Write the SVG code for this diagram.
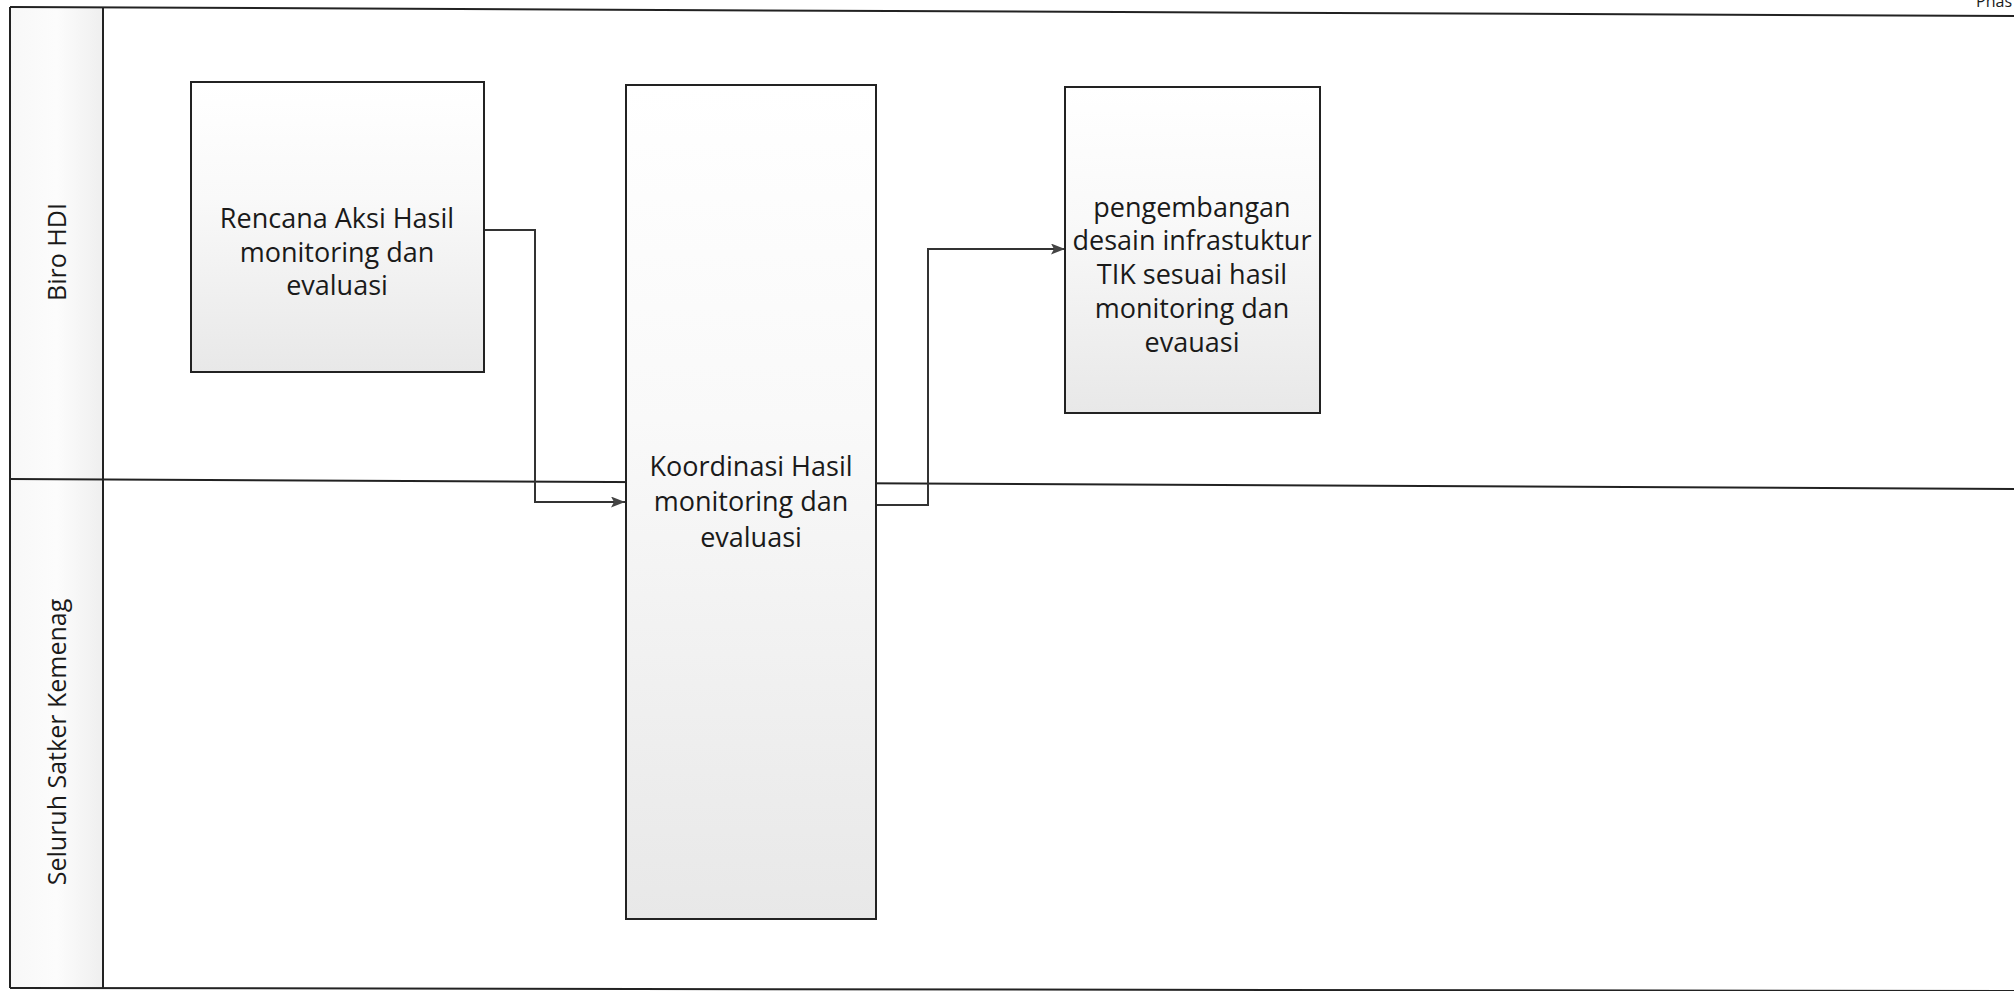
<svg xmlns="http://www.w3.org/2000/svg" width="2014" height="991" viewBox="0 0 2014 991">
<defs>
<linearGradient id="boxfill" x1="0" y1="0" x2="0" y2="1">
<stop offset="0" stop-color="#ffffff"/>
<stop offset="0.4" stop-color="#f9f9f9"/>
<stop offset="1" stop-color="#e8e8e8"/>
</linearGradient>
<linearGradient id="hdrfill" x1="0" y1="0" x2="1" y2="0">
<stop offset="0" stop-color="#f8f8f8"/>
<stop offset="0.5" stop-color="#fcfcfc"/>
<stop offset="1" stop-color="#efefef"/>
</linearGradient>
<marker id="arrow" viewBox="0 0 14 11" refX="14" refY="5.5" markerWidth="14" markerHeight="11" markerUnits="userSpaceOnUse" orient="auto">
<path d="M0,0 L14,5.5 L0,11 L3,5.5 Z" fill="#444444"/>
</marker>
</defs>
<style>
.lane{fill:none;stroke:#222222;stroke-width:2}
.box{fill:url(#boxfill);stroke:#222222;stroke-width:2}
.conn{fill:none;stroke:#333333;stroke-width:2;marker-end:url(#arrow)}
.t{font-family:"Open Sans","Liberation Sans",sans-serif;font-size:27px;fill:#1a1a1a;text-anchor:middle}
.lt{font-family:"Open Sans","Liberation Sans",sans-serif;font-size:25px;fill:#1a1a1a;text-anchor:middle}
</style>
<rect x="0" y="0" width="2014" height="991" fill="#ffffff"/>
<g id="pool">
<rect x="10" y="8" width="93" height="980" fill="url(#hdrfill)"/>
<path class="lane" d="M10,7 L2014,16"/>
<path class="lane" d="M10,988 L2014,991"/>
<path class="lane" d="M10,7 L10,988"/>
<path class="lane" d="M103,7 L103,988"/>
<path class="lane" d="M10,479 L2014,489"/>
<text x="2012" y="7" style="font-family:'Open Sans','Liberation Sans',sans-serif;font-size:16px;fill:#1a1a1a" text-anchor="end">Phas</text>
</g>
<g id="lane-biro">
<text class="lt" transform="translate(66,252) rotate(-90)">Biro HDI</text>
</g>
<g id="lane-seluruh">
<text class="lt" transform="translate(66,742) rotate(-90)">Seluruh Satker Kemenag</text>
</g>
<g id="connectors">
<path class="conn" d="M484,230 L535,230 L535,502 L625,502"/>
<path class="conn" d="M877,505 L928,505 L928,249 L1065,249"/>
</g>
<g id="node-rencana">
<rect class="box" x="191" y="82" width="293" height="290"/>
<text class="t" x="337" y="228">Rencana Aksi Hasil</text>
<text class="t" x="337" y="262">monitoring dan</text>
<text class="t" x="337" y="295">evaluasi</text>
</g>
<g id="node-koordinasi">
<rect class="box" x="626" y="85" width="250" height="834"/>
<text class="t" x="751" y="476">Koordinasi Hasil</text>
<text class="t" x="751" y="511">monitoring dan</text>
<text class="t" x="751" y="547">evaluasi</text>
</g>
<g id="node-pengembangan">
<rect class="box" x="1065" y="87" width="255" height="326"/>
<text class="t" x="1192" y="217">pengembangan</text>
<text class="t" x="1192" y="250">desain infrastuktur</text>
<text class="t" x="1192" y="284">TIK sesuai hasil</text>
<text class="t" x="1192" y="318">monitoring dan</text>
<text class="t" x="1192" y="352">evauasi</text>
</g>
</svg>
